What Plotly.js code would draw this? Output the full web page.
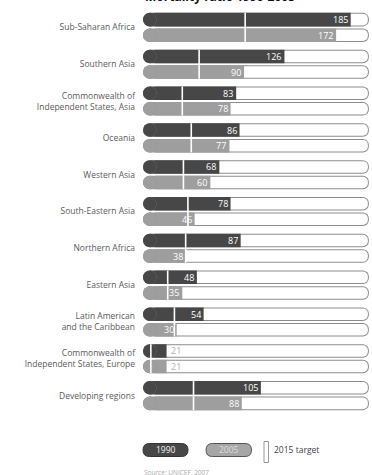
<!DOCTYPE html>
<html>
<head>
<meta charset="utf-8">
<script src="https://cdn.plot.ly/plotly-3.0.1.min.js"></script>
<style>
  html, body { margin: 0; padding: 0; background: #fff; }
  #chart { width: 372px; height: 475px; }
</style>
</head>
<body>
<div id="chart"></div>
<script>
// Under-five mortality per region, 1990 and 2005, with the 2015 target
const regions = [
  'Sub-Saharan Africa',
  'Southern Asia',
  'Commonwealth of<br>Independent States, Asia',
  'Oceania',
  'Western Asia',
  'South-Eastern Asia',
  'Northern Africa',
  'Eastern Asia',
  'Latin American<br>and the Caribbean',
  'Commonwealth of<br>Independent States, Europe',
  'Developing regions'
];
const rate1990 = [185, 126, 83, 86, 68, 78, 87, 48, 54, 21, 105];
const rate2005 = [172, 90, 78, 77, 60, 46, 38, 35, 30, 21, 88];
const target2015 = [91, 50, 35, 43, 36, 40, 38, 22, 28, 7, 45];
const legendLabels = ['1990', '2005', '2015 target'];
const titleText = 'Mortality ratio 1990-2005';
const sourceText = 'Source: UNICEF, 2007';

// ---- geometry ----
const W = 372, H = 475;
const M = { l: 143, r: 2, t: 9, b: 61 };
const PW = W - M.l - M.r, PH = H - M.t - M.b;
const n = regions.length;
const X_MAX = 202.2;                 // axis extent
const PILL_END = 201.2;              // right end of the track
const pxX = X_MAX / PW;              // one pixel in x units
const pxY = n / PH;                  // one pixel in row units
const ROW_W = 0.367;                 // bar thickness, row units
const OFF_1990 = -0.395, OFF_2005 = 0.028;
const BAR_PX = ROW_W / pxY;          // bar thickness in pixels
const CAP = (BAR_PX / 2) * pxX;      // radius of the rounded left end, x units

const DARK = '#474747', LIGHT = '#9e9e9e', EDGE = '#8c8c8c';
const FONT = 'Open Sans, DejaVu Sans, sans-serif';

const rowIdx = regions.map((_, i) => i);
const fill = v => regions.map(() => v);
const centre = off => rowIdx.map(i => i + off + ROW_W / 2);

// horizontal bar covering [lo, hi] (rounded on the right when radius is given)
function seg(lo, hi, color, off, width, radius) {
  return {
    type: 'bar', orientation: 'h', y: rowIdx,
    base: lo.slice(), x: lo.map((l, i) => hi[i] - l),
    offset: off, width: width,
    marker: { color: color, cornerradius: radius || 0, line: { width: 0 } },
    hoverinfo: 'skip', showlegend: false
  };
}
// round left end of a bar
function cap(off, color, size) {
  return {
    type: 'scatter', mode: 'markers', x: fill(CAP), y: centre(off),
    marker: { symbol: 'circle', size: size, color: color, line: { width: 0 } },
    hoverinfo: 'skip', showlegend: false, cliponaxis: false
  };
}

const traces = [];
[OFF_1990, OFF_2005].forEach(off => {
  // empty track: grey rim with white interior
  traces.push(seg(fill(CAP), fill(PILL_END), EDGE, off, ROW_W, '50%'));
  traces.push(seg(fill(CAP), fill(PILL_END - pxX), '#ffffff', off + pxY, ROW_W - 2 * pxY, '50%'));
  traces.push(cap(off, EDGE, BAR_PX));
  traces.push(cap(off, '#ffffff', BAR_PX - 2));
});
// values
traces.push(seg(fill(CAP), rate1990, DARK, OFF_1990, ROW_W));
traces.push(seg(fill(CAP), rate2005, LIGHT, OFF_2005, ROW_W));
traces.push(cap(OFF_1990, DARK, BAR_PX));
traces.push(cap(OFF_2005, LIGHT, BAR_PX));

// 2015 target marks across both bars of a region
const tx = [], ty = [];
target2015.forEach((t, i) => {
  tx.push(t, t, null);
  ty.push(i + OFF_1990, i + OFF_2005 + ROW_W, null);
});
traces.push({
  type: 'scatter', mode: 'lines', x: tx, y: ty,
  line: { color: '#ffffff', width: 1.6 },
  hoverinfo: 'skip', showlegend: false
});

// value labels
const annotations = [];
function valueLabels(vals, off) {
  vals.forEach((v, i) => {
    const inside = v >= 25;
    annotations.push({
      x: v, y: i + off + ROW_W / 2, xref: 'x', yref: 'y',
      text: String(v), showarrow: false,
      xanchor: inside ? 'right' : 'left', yanchor: 'middle',
      xshift: inside ? -1 : 2,
      font: { family: FONT, size: 9, color: inside ? '#ffffff' : '#b0b0b0' }
    });
  });
}
valueLabels(rate1990, OFF_1990);
valueLabels(rate2005, OFF_2005);

// pixel -> paper helpers for the key and captions
const px = x => (x - M.l) / PW;
const py = y => (H - M.b - y) / PH;

annotations.push({
  x: px(220), y: 1, xref: 'paper', yref: 'paper', xanchor: 'center', yanchor: 'bottom', yshift: 2,
  text: '<b>' + titleText + '</b>', showarrow: false,
  font: { family: FONT, size: 12, color: '#111' }
});

function pill(x0, x1, y0, y1) {
  const r = (y1 - y0) / 2, ym = (y0 + y1) / 2;
  const P = (x, y) => px(x) + ',' + py(y);
  return 'M' + P(x0 + r, y0) + ' L' + P(x1 - r, y0) +
    ' Q' + P(x1, y0) + ' ' + P(x1, ym) + ' Q' + P(x1, y1) + ' ' + P(x1 - r, y1) +
    ' L' + P(x0 + r, y1) + ' Q' + P(x0, y1) + ' ' + P(x0, ym) +
    ' Q' + P(x0, y0) + ' ' + P(x0 + r, y0) + ' Z';
}
const shapes = [
  { type: 'path', xref: 'paper', yref: 'paper', path: pill(143, 188, 443.5, 456.5),
    fillcolor: DARK, line: { color: '#333', width: 1 } },
  { type: 'path', xref: 'paper', yref: 'paper', path: pill(206, 251.5, 443.5, 456.5),
    fillcolor: '#a6a6a6', line: { color: '#555', width: 1 } },
  { type: 'rect', xref: 'paper', yref: 'paper', x0: px(264), x1: px(268.5), y0: py(462.5), y1: py(441.5),
    fillcolor: '#ffffff', line: { color: '#999', width: 1 } }
];
const keyText = (x, y, text, color, size, anchor) => ({
  x: px(x), y: py(y), xref: 'paper', yref: 'paper', xanchor: anchor, yanchor: 'middle',
  text: text, showarrow: false, font: { family: FONT, size: size, color: color }
});
annotations.push(
  keyText(165.5, 450, legendLabels[0], '#f2f2f2', 8.5, 'center'),
  keyText(229, 450, legendLabels[1], '#dedede', 8.5, 'center'),
  keyText(272, 450, legendLabels[2], '#444', 8.5, 'left'),
  keyText(142, 472, sourceText, '#aaa', 6.5, 'left')
);

const layout = {
  width: W, height: H,
  margin: M,
  paper_bgcolor: '#ffffff', plot_bgcolor: '#ffffff',
  barmode: 'overlay',
  showlegend: false,
  xaxis: { range: [0, X_MAX], visible: false, fixedrange: true },
  yaxis: {
    range: [n - 0.5, -0.5],
    tickvals: rowIdx, ticktext: regions,
    showgrid: false, zeroline: false, showline: false, ticks: '',
    ticklabelstandoff: 7,
    tickfont: { family: FONT, size: 8.5, color: '#5a5a5a' },
    fixedrange: true
  },
  shapes: shapes,
  annotations: annotations
};

Plotly.newPlot('chart', traces, layout, { displayModeBar: false, staticPlot: true });
</script>
</body>
</html>
